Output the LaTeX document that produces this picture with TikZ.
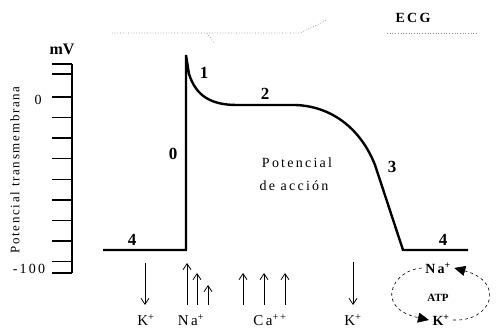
\documentclass[tikz,border=0pt]{standalone}
\usepackage{fontspec}
\setmainfont{Liberation Serif}
\newfontfamily\abierta[LetterSpace=16]{Liberation Serif}
\newfontfamily\abiertaeje[LetterSpace=13]{Liberation Serif}
\usetikzlibrary{arrows.meta}

\tikzset{
  texto/.style={font=\abierta\fontsize{14}{14}\selectfont},
  ion/.style={font=\abierta\fontsize{15}{15}\selectfont},
  fase/.style={font=\fontsize{17}{17}\selectfont\bfseries},
  flujo/.style={-{Straight Barb[length=6pt,width=8pt]}, line width=0.8pt},
  bomba/.style={dashed, line width=0.6pt, -{Triangle[length=11pt,width=10pt]}},
  traza/.style={dotted, line width=0.7pt, black!45},
}

\begin{document}
\begin{tikzpicture}[>=Stealth, x=1pt, y=-1pt]

    \useasboundingbox (0,0) rectangle (501,328);

    % Traza ECG (tenue)
    \draw[traza] (112,33) -- (300,33) -- (327,20);
    \draw[traza] (207,33) -- (214,43);
    \draw[traza] (387,33) -- (477,33);
    \node[font=\abierta\fontsize{14}{14}\selectfont\bfseries] (ecg) at (413,18) {ECG};

    % Eje de voltaje
    \draw[line width=1.4pt] (72,64) -- (72,273);
    \foreach \y in {64,74,97,117.6,138.2,158.8,179.4,200,220.6,241.2,261.8,273}
        \draw[line width=1.4pt] (52,\y) -- (72,\y);
    \node[font=\fontsize{16}{16}\selectfont\bfseries] (mv) at (62,49) {mV};
    \node[texto] (cero) at (38,100) {0};
    \node[texto] (menoscien) at (29,269) {-100};
    \node[font=\abiertaeje\fontsize{13}{13}\selectfont, rotate=90] (eje) at (15,170) {Potencial transmembrana};

    % Potencial de accion
    \draw[
        line width=2.4pt,
        black
    ] (103,250) -- (186,250) -- (186,55) -- (189,74)
    .. controls (196,96) and (211,105) ..
    (237,105) -- (295,105)
    .. controls (330,106) and (360,127) ..
    (375,165) -- (403,250) -- (468,250);

    % Fases
    \node[fase] (f1) at (204,73) {1};
    \node[fase] (f2) at (265,94) {2};
    \node[fase] (f0) at (173,154) {0};
    \node[fase] (f3) at (392,167) {3};
    \node[fase] (f4a) at (132,240) {4};
    \node[fase] (f4b) at (443,240) {4};

    \node[texto] (pot) at (297,163) {Potencial};
    \node[texto] (acc) at (294,186) {de acción};

    % Corrientes ionicas
    \node[ion] (k1) at (146,320) {K\textsuperscript{+}};
    \node[ion] (na) at (191,320) {Na\textsuperscript{+}};
    \node[ion] (ca) at (270,320) {Ca\textsuperscript{++}};
    \node[ion] (k2) at (353,320) {K\textsuperscript{+}};

    \draw[flujo] (145,263) -- (145,305);
    \draw[flujo] (353,262) -- (353,305);
    \draw[flujo] (187,305) -- (187,263);
    \draw[flujo] (197,305) -- (197,273);
    \draw[flujo] (208,305) -- (208,285);
    \foreach \x in {243,264,285}
        \draw[flujo] (\x,305) -- (\x,273);

    % Bomba Na-K
    \node[font=\abierta\fontsize{14}{14}\selectfont\bfseries] (pna) at (438,268) {Na\textsuperscript{+}};
    \node[font=\fontsize{11}{11}\selectfont\bfseries] (atp) at (438,298) {ATP};
    \node[font=\abierta\fontsize{14}{14}\selectfont\bfseries] (pk) at (441,320) {K\textsuperscript{+}};

    \draw[bomba] (pna.west)
        .. controls (392,270) and (374,308) ..
        (pk.west);
    \draw[bomba] (pk.east)
        .. controls (492,322) and (506,282) ..
        (pna.east);

\end{tikzpicture}
\end{document}
